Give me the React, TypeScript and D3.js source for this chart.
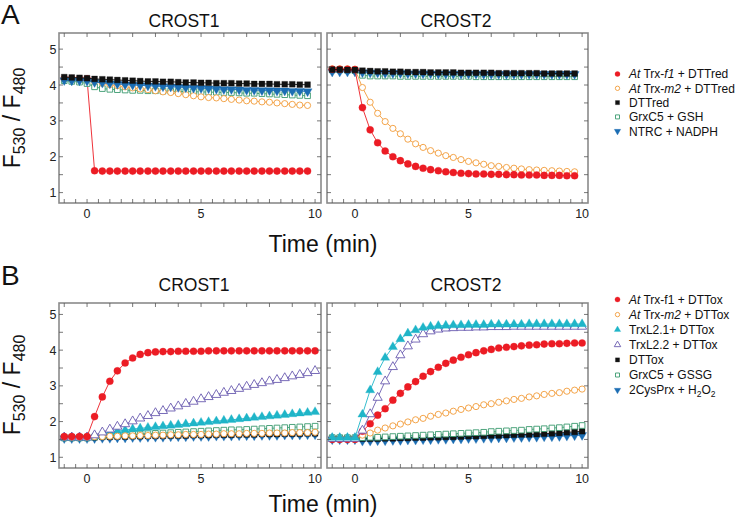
import React from 'react';
import * as d3 from 'd3';

// ---------- data ----------
const timeA = [-1, -0.67, -0.33, 0, 0.33, 0.67, 1, 1.33, 1.67, 2, 2.33, 2.67, 3, 3.33, 3.67, 4, 4.33, 4.67, 5, 5.33, 5.67, 6, 6.33, 6.67, 7, 7.33, 7.67, 8, 8.33, 8.67, 9, 9.33, 9.67];
const timeB = [-1, -0.67, -0.33, 0, 0.33, 0.67, 1, 1.33, 1.67, 2, 2.33, 2.67, 3, 3.33, 3.67, 4, 4.33, 4.67, 5, 5.33, 5.67, 6, 6.33, 6.67, 7, 7.33, 7.67, 8, 8.33, 8.67, 9, 9.33, 9.67, 10];

const xTicksLabels = [0, 5, 10];
const yTickLabels = [1, 2, 3, 4, 5];
const panelTitles = ['CROST1', 'CROST2'];

// A – CROST1
const a1Trxf1 = [4.18, 4.18, 4.17, 4.17, 1.61, 1.6, 1.6, 1.6, 1.6, 1.6, 1.6, 1.6, 1.6, 1.6, 1.6, 1.6, 1.6, 1.6, 1.6, 1.6, 1.6, 1.6, 1.6, 1.6, 1.6, 1.6, 1.6, 1.6, 1.6, 1.6, 1.6, 1.6, 1.6];
const a1Trxm2 = [4.17, 4.17, 4.16, 4.15, 4.1, 4.05, 4.01, 3.98, 3.95, 3.92, 3.89, 3.87, 3.84, 3.81, 3.79, 3.76, 3.73, 3.7, 3.67, 3.65, 3.64, 3.62, 3.6, 3.58, 3.56, 3.55, 3.53, 3.52, 3.5, 3.48, 3.46, 3.44, 3.43];
const a1DTT = [4.22, 4.21, 4.2, 4.19, 4.17, 4.16, 4.15, 4.14, 4.13, 4.12, 4.11, 4.1, 4.1, 4.09, 4.09, 4.08, 4.07, 4.07, 4.06, 4.06, 4.05, 4.05, 4.05, 4.04, 4.04, 4.03, 4.03, 4.03, 4.02, 4.02, 4.02, 4.01, 4.01];
const a1Grx = [4.12, 4.1, 4.08, 4.04, 3.95, 3.9, 3.88, 3.87, 3.86, 3.85, 3.85, 3.84, 3.84, 3.83, 3.83, 3.82, 3.82, 3.81, 3.81, 3.8, 3.8, 3.79, 3.79, 3.78, 3.77, 3.77, 3.76, 3.75, 3.74, 3.73, 3.72, 3.71, 3.7];
const a1NTRC = [4.13, 4.12, 4.12, 4.11, 4.08, 4.06, 4.04, 4.03, 4.01, 4.0, 3.99, 3.98, 3.97, 3.96, 3.95, 3.94, 3.93, 3.92, 3.91, 3.9, 3.89, 3.88, 3.88, 3.87, 3.86, 3.86, 3.85, 3.85, 3.84, 3.84, 3.83, 3.83, 3.82];

// A – CROST2
const a2Trxf1 = [4.44, 4.44, 4.44, 4.43, 3.37, 2.75, 2.39, 2.16, 2.0, 1.89, 1.8, 1.73, 1.68, 1.64, 1.61, 1.58, 1.56, 1.54, 1.53, 1.52, 1.52, 1.51, 1.51, 1.5, 1.5, 1.49, 1.49, 1.49, 1.48, 1.48, 1.48, 1.47, 1.47];
const a2Trxm2 = [4.45, 4.45, 4.45, 4.44, 3.93, 3.52, 3.21, 2.98, 2.79, 2.64, 2.49, 2.36, 2.26, 2.17, 2.1, 2.03, 1.98, 1.92, 1.87, 1.83, 1.79, 1.75, 1.73, 1.7, 1.68, 1.66, 1.64, 1.63, 1.62, 1.61, 1.6, 1.59, 1.58];
const a2DTT = [4.43, 4.43, 4.42, 4.42, 4.4, 4.39, 4.38, 4.38, 4.37, 4.37, 4.36, 4.36, 4.36, 4.35, 4.35, 4.35, 4.35, 4.34, 4.34, 4.34, 4.34, 4.34, 4.33, 4.33, 4.33, 4.33, 4.33, 4.33, 4.32, 4.32, 4.32, 4.32, 4.32];
const a2Grx = [4.42, 4.42, 4.41, 4.4, 4.27, 4.25, 4.25, 4.25, 4.25, 4.24, 4.24, 4.24, 4.24, 4.24, 4.24, 4.24, 4.24, 4.24, 4.24, 4.23, 4.23, 4.23, 4.23, 4.23, 4.23, 4.23, 4.23, 4.23, 4.23, 4.23, 4.23, 4.23, 4.23];
const a2NTRC = [4.37, 4.37, 4.37, 4.37, 4.35, 4.34, 4.34, 4.33, 4.33, 4.33, 4.32, 4.32, 4.32, 4.32, 4.31, 4.31, 4.31, 4.31, 4.31, 4.31, 4.3, 4.3, 4.3, 4.3, 4.3, 4.3, 4.3, 4.3, 4.3, 4.3, 4.3, 4.3, 4.3];

// B – CROST1
const b1Trxf1 = [1.58, 1.58, 1.58, 1.58, 2.14, 2.69, 3.13, 3.42, 3.64, 3.78, 3.88, 3.93, 3.95, 3.96, 3.96, 3.97, 3.97, 3.97, 3.97, 3.98, 3.98, 3.98, 3.98, 3.98, 3.98, 3.98, 3.98, 3.98, 3.98, 3.98, 3.98, 3.98, 3.98, 3.98];
const b1Trxm2 = [1.57, 1.57, 1.57, 1.57, 1.58, 1.58, 1.59, 1.59, 1.6, 1.6, 1.61, 1.61, 1.62, 1.62, 1.63, 1.63, 1.64, 1.64, 1.64, 1.65, 1.65, 1.66, 1.66, 1.66, 1.67, 1.67, 1.67, 1.68, 1.68, 1.68, 1.69, 1.69, 1.69, 1.7];
const b1L21 = [1.55, 1.55, 1.55, 1.55, 1.6, 1.66, 1.7, 1.73, 1.76, 1.79, 1.81, 1.83, 1.85, 1.87, 1.89, 1.91, 1.93, 1.95, 1.97, 1.99, 2.01, 2.03, 2.05, 2.07, 2.09, 2.11, 2.13, 2.15, 2.17, 2.19, 2.21, 2.23, 2.25, 2.27];
const b1L22 = [1.56, 1.56, 1.56, 1.56, 1.62, 1.7, 1.78, 1.86, 1.93, 2.01, 2.09, 2.16, 2.24, 2.3, 2.37, 2.43, 2.5, 2.56, 2.63, 2.69, 2.75, 2.81, 2.86, 2.92, 2.98, 3.03, 3.08, 3.13, 3.17, 3.22, 3.27, 3.31, 3.36, 3.42];
const b1DTT = [1.56, 1.56, 1.56, 1.56, 1.56, 1.57, 1.57, 1.58, 1.58, 1.59, 1.59, 1.6, 1.6, 1.6, 1.61, 1.61, 1.61, 1.62, 1.62, 1.62, 1.63, 1.63, 1.63, 1.64, 1.64, 1.64, 1.65, 1.65, 1.65, 1.66, 1.66, 1.66, 1.67, 1.67];
const b1Grx = [1.54, 1.54, 1.54, 1.54, 1.57, 1.59, 1.61, 1.62, 1.63, 1.64, 1.65, 1.66, 1.67, 1.68, 1.69, 1.7, 1.71, 1.72, 1.73, 1.74, 1.75, 1.76, 1.77, 1.77, 1.78, 1.79, 1.8, 1.81, 1.82, 1.83, 1.84, 1.85, 1.86, 1.87];
const b1Prx = [1.53, 1.53, 1.53, 1.53, 1.53, 1.54, 1.54, 1.55, 1.55, 1.56, 1.56, 1.57, 1.57, 1.57, 1.58, 1.58, 1.58, 1.59, 1.59, 1.59, 1.6, 1.6, 1.6, 1.61, 1.61, 1.61, 1.62, 1.62, 1.62, 1.63, 1.63, 1.63, 1.64, 1.64];

// B – CROST2
const b2Trxf1 = [1.5, 1.5, 1.5, 1.5, 1.73, 1.94, 2.18, 2.36, 2.6, 2.79, 2.97, 3.12, 3.27, 3.4, 3.52, 3.63, 3.72, 3.8, 3.87, 3.93, 3.98, 4.02, 4.06, 4.08, 4.1, 4.12, 4.14, 4.15, 4.17, 4.18, 4.18, 4.19, 4.2, 4.2];
const b2Trxm2 = [1.52, 1.52, 1.52, 1.52, 1.62, 1.68, 1.76, 1.82, 1.88, 1.93, 1.99, 2.05, 2.09, 2.15, 2.2, 2.24, 2.29, 2.34, 2.38, 2.42, 2.47, 2.5, 2.54, 2.58, 2.62, 2.65, 2.69, 2.72, 2.76, 2.79, 2.81, 2.85, 2.88, 2.91];
const b2L21 = [1.55, 1.55, 1.55, 1.55, 2.2, 2.88, 3.39, 3.79, 4.09, 4.31, 4.47, 4.56, 4.63, 4.66, 4.68, 4.69, 4.7, 4.7, 4.71, 4.71, 4.71, 4.72, 4.72, 4.72, 4.72, 4.72, 4.73, 4.73, 4.73, 4.73, 4.73, 4.73, 4.73, 4.73];
const b2L22 = [1.52, 1.52, 1.52, 1.52, 1.75, 2.21, 2.67, 3.13, 3.53, 3.86, 4.11, 4.3, 4.45, 4.53, 4.58, 4.61, 4.62, 4.63, 4.63, 4.64, 4.64, 4.65, 4.65, 4.65, 4.66, 4.66, 4.66, 4.66, 4.66, 4.66, 4.66, 4.66, 4.66, 4.66];
const b2DTT = [1.53, 1.53, 1.53, 1.53, 1.52, 1.52, 1.52, 1.53, 1.53, 1.54, 1.54, 1.55, 1.55, 1.56, 1.56, 1.57, 1.57, 1.58, 1.59, 1.59, 1.6, 1.61, 1.61, 1.62, 1.63, 1.64, 1.64, 1.65, 1.66, 1.67, 1.68, 1.7, 1.71, 1.73];
const b2Grx = [1.55, 1.55, 1.55, 1.55, 1.55, 1.56, 1.56, 1.57, 1.58, 1.59, 1.6, 1.61, 1.62, 1.63, 1.64, 1.65, 1.66, 1.67, 1.68, 1.69, 1.7, 1.72, 1.73, 1.74, 1.75, 1.76, 1.78, 1.79, 1.8, 1.82, 1.83, 1.85, 1.87, 1.89];
const b2Prx = [1.5, 1.5, 1.5, 1.5, 1.46, 1.46, 1.47, 1.47, 1.48, 1.48, 1.49, 1.49, 1.5, 1.5, 1.51, 1.51, 1.52, 1.52, 1.53, 1.53, 1.54, 1.54, 1.55, 1.55, 1.56, 1.56, 1.57, 1.57, 1.58, 1.58, 1.59, 1.6, 1.61, 1.62];

// ---------- styles ----------
const RED = '#ec1c24';
const ORANGE = '#f29b38';
const BLACK = '#111111';
const GREEN = '#3a9a6e';
const BLUE = '#1b6db3';
const CYAN = '#1fb5c8';
const PURPLE = '#6a5bb0';
const FONT = '"Liberation Sans", Arial, Helvetica, sans-serif';
const FRAME = '#8a8a8a';

type Shape = 'circle' | 'square' | 'tri' | 'triDown';
type St = { color: string; shape: Shape; filled: boolean };

const sRed: St = { color: RED, shape: 'circle', filled: true };
const sOrange: St = { color: ORANGE, shape: 'circle', filled: false };
const sBlack: St = { color: BLACK, shape: 'square', filled: true };
const sGreen: St = { color: GREEN, shape: 'square', filled: false };
const sBlue: St = { color: BLUE, shape: 'triDown', filled: true };
const sCyan: St = { color: CYAN, shape: 'tri', filled: true };
const sPurple: St = { color: PURPLE, shape: 'tri', filled: false };

function symPath(shape: Shape, size: number) {
  const type = shape === 'circle' ? d3.symbolCircle : shape === 'square' ? d3.symbolSquare : d3.symbolTriangle;
  return d3.symbol().type(type).size(size)() as string;
}

function Marker({ x, y, st, scale = 1 }: { x: number; y: number; st: St; scale?: number }) {
  const base = st.shape === 'circle' ? (st.filled ? 40 : 30) : st.shape === 'square' ? (st.filled ? 34 : 32) : 36;
  const d = symPath(st.shape, base * scale);
  const rot = st.shape === 'triDown' ? ' rotate(180)' : '';
  return (
    <path
      d={d}
      transform={`translate(${x},${y})${rot}`}
      fill={st.filled ? st.color : '#ffffff'}
      stroke={st.color}
      strokeWidth={st.filled ? 0.3 : 0.9}
    />
  );
}

type Series = { t: number[]; v: number[]; st: St };

function Panel({ left, right, top, bottom, yDomain, series, showY }: {
  left: number; right: number; top: number; bottom: number; yDomain: [number, number]; series: Series[]; showY: boolean;
}) {
  const x = d3.scaleLinear().domain([-1.23, 10.26]).range([left, right]);
  const y = d3.scaleLinear().domain(yDomain).range([bottom, top]);
  const line = d3.line<[number, number]>().x((d) => x(d[0])).y((d) => y(d[1]));
  const xMinor = d3.range(-1, 10.01, 0.5);
  const xMajor = d3.range(-1, 10.01, 1);
  const yMinor = d3.range(1, 5.01, 0.5);
  const tl = 4;
  return (
    <g>
      {series.map((s, i) => (
        <g key={i}>
          <path d={line(s.t.map((t, k) => [t, s.v[k]]) as [number, number][]) as string} fill="none" stroke={s.st.color} strokeWidth={0.9} />
          {s.t.map((t, k) => <Marker key={k} x={x(t)} y={y(s.v[k])} st={s.st} />)}
        </g>
      ))}
      <rect x={left} y={top} width={right - left} height={bottom - top} fill="none" stroke={FRAME} strokeWidth={1.6} />
      {xMinor.map((t) => <line key={'b' + t} x1={x(t)} x2={x(t)} y1={bottom} y2={bottom - tl} stroke="#555" strokeWidth={0.8} />)}
      {xMajor.map((t) => <line key={'t' + t} x1={x(t)} x2={x(t)} y1={top} y2={top + tl} stroke="#555" strokeWidth={0.8} />)}
      {yMinor.map((v) => <line key={'l' + v} x1={left} x2={left + tl} y1={y(v)} y2={y(v)} stroke="#555" strokeWidth={0.8} />)}
      {yMinor.map((v) => <line key={'r' + v} x1={right} x2={right - tl} y1={y(v)} y2={y(v)} stroke="#555" strokeWidth={0.8} />)}
      {xTicksLabels.map((t) => (
        <text key={'xl' + t} x={x(t)} y={bottom + 14.5} textAnchor="middle" fontSize={12.5} fill="#222">{t}</text>
      ))}
      {showY && yTickLabels.map((v) => (
        <text key={'yl' + v} x={left - 2.5} y={y(v)} dy="0.36em" textAnchor="end" fontSize={12.5} fill="#222">{v}</text>
      ))}
    </g>
  );
}

function YLabel({ cy }: { cy: number }) {
  return (
    <text transform={`translate(20,${cy}) rotate(-90)`} textAnchor="middle" fontSize={23} fill="#111">
      F<tspan fontSize={16} dy={5}>530</tspan><tspan dy={-5}> / F</tspan><tspan fontSize={16} dy={5}>480</tspan>
    </text>
  );
}

const legendA: { st: St; label: React.ReactNode }[] = [
  { st: sRed, label: <><tspan fontStyle="italic">At</tspan> Trx-<tspan fontStyle="italic">f1</tspan> + DTTred</> },
  { st: sOrange, label: <><tspan fontStyle="italic">At</tspan> Trx-<tspan fontStyle="italic">m2</tspan> + DTTred</> },
  { st: sBlack, label: 'DTTred' },
  { st: sGreen, label: 'GrxC5 + GSH' },
  { st: sBlue, label: 'NTRC + NADPH' },
];

const legendB: { st: St; label: React.ReactNode }[] = [
  { st: sRed, label: <><tspan fontStyle="italic">At</tspan> Trx-f1 + DTTox</> },
  { st: sOrange, label: <><tspan fontStyle="italic">At</tspan> Trx-<tspan fontStyle="italic">m2</tspan> + DTTox</> },
  { st: sCyan, label: 'TrxL2.1+ DTTox' },
  { st: sPurple, label: 'TrxL2.2 + DTTox' },
  { st: sBlack, label: 'DTTox' },
  { st: sGreen, label: 'GrxC5 + GSSG' },
  { st: sBlue, label: <>2CysPrx + H<tspan fontSize={8.5} dy={3}>2</tspan><tspan dy={-3}>O</tspan><tspan fontSize={8.5} dy={3}>2</tspan></> },
];

function Legend({ items, y0, step }: { items: { st: St; label: React.ReactNode }[]; y0: number; step: number }) {
  return (
    <g>
      {items.map((it, i) => (
        <g key={i}>
          <Marker x={617.5} y={y0 + i * step} st={it.st} scale={0.5} />
          <text x={629} y={y0 + i * step} dy="0.36em" fontSize={12} fill="#111">{it.label}</text>
        </g>
      ))}
    </g>
  );
}

export default function App() {
  const A1: Series[] = [
    { t: timeA, v: a1Trxf1, st: sRed },
    { t: timeA, v: a1Grx, st: sGreen },
    { t: timeA, v: a1Trxm2, st: sOrange },
    { t: timeA, v: a1NTRC, st: sBlue },
    { t: timeA, v: a1DTT, st: sBlack },
  ];
  const A2: Series[] = [
    { t: timeA, v: a2Grx, st: sGreen },
    { t: timeA, v: a2NTRC, st: sBlue },
    { t: timeA, v: a2Trxm2, st: sOrange },
    { t: timeA, v: a2Trxf1, st: sRed },
    { t: timeA, v: a2DTT, st: sBlack },
  ];
  const B1: Series[] = [
    { t: timeB, v: b1Prx, st: sBlue },
    { t: timeB, v: b1DTT, st: sBlack },
    { t: timeB, v: b1Grx, st: sGreen },
    { t: timeB, v: b1L21, st: sCyan },
    { t: timeB, v: b1Trxm2, st: sOrange },
    { t: timeB, v: b1L22, st: sPurple },
    { t: timeB, v: b1Trxf1, st: sRed },
  ];
  const B2: Series[] = [
    { t: timeB, v: b2Prx, st: sBlue },
    { t: timeB, v: b2DTT, st: sBlack },
    { t: timeB, v: b2Grx, st: sGreen },
    { t: timeB, v: b2Trxm2, st: sOrange },
    { t: timeB, v: b2Trxf1, st: sRed },
    { t: timeB, v: b2L22, st: sPurple },
    { t: timeB, v: b2L21, st: sCyan },
  ];
  const yDomA: [number, number] = [0.71, 5.45];
  const yDomB: [number, number] = [0.7, 5.32];
  return (
    <svg width={740} height={520} style={{ position: 'absolute', left: 0, top: 0, background: '#fff' }} fontFamily={FONT}>
      <rect x={0} y={0} width={740} height={520} fill="#fff" />
      <text x={1} y={24} fontSize={28} fill="#111">A</text>
      <text x={1} y={285} fontSize={28} fill="#111">B</text>

      <text x={184} y={27} textAnchor="middle" fontSize={17.5} fill="#111">{panelTitles[0]}</text>
      <text x={456} y={27} textAnchor="middle" fontSize={17.5} fill="#111">{panelTitles[1]}</text>
      <text x={194} y={291} textAnchor="middle" fontSize={17.5} fill="#111">{panelTitles[0]}</text>
      <text x={466} y={291} textAnchor="middle" fontSize={17.5} fill="#111">{panelTitles[1]}</text>

      <Panel left={59} right={321} top={33} bottom={203} yDomain={yDomA} series={A1} showY={true} />
      <Panel left={327} right={588} top={33} bottom={203} yDomain={yDomA} series={A2} showY={false} />
      <Panel left={59} right={321} top={303} bottom={468} yDomain={yDomB} series={B1} showY={true} />
      <Panel left={327} right={588} top={303} bottom={468} yDomain={yDomB} series={B2} showY={false} />

      <YLabel cy={118} />
      <YLabel cy={385} />

      <text x={323} y={252} textAnchor="middle" fontSize={23} fill="#111">Time (min)</text>
      <text x={323} y={512} textAnchor="middle" fontSize={23} fill="#111">Time (min)</text>

      <Legend items={legendA} y0={74} step={14.3} />
      <Legend items={legendB} y0={299.5} step={15.1} />
    </svg>
  );
}
